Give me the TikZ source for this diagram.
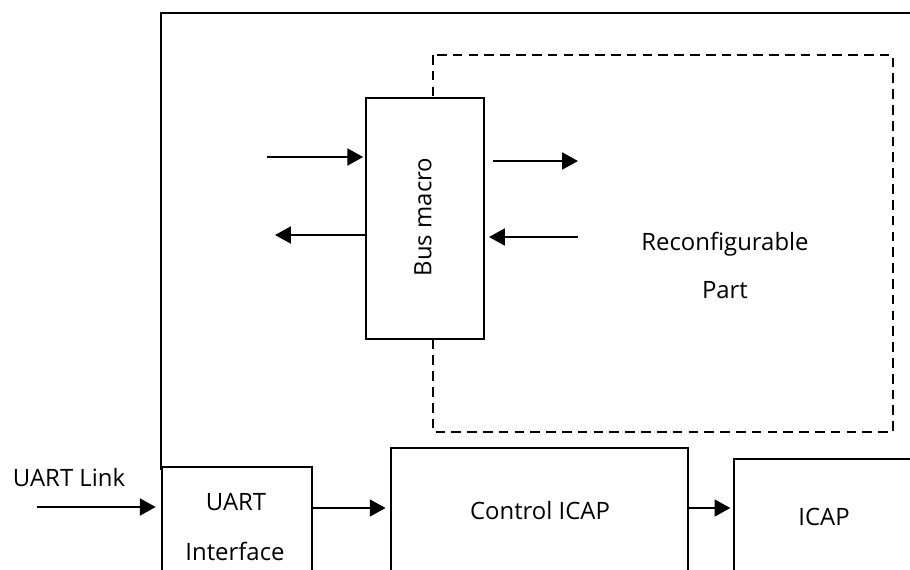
\documentclass[tikz,border=0pt]{standalone}
\usepackage{fontspec}
\setmainfont{Open Sans}
\usetikzlibrary{arrows.meta}

\tikzset{
  box/.style={draw, line width=1.4pt, fill=white, inner sep=0pt, anchor=north west},
  lbl/.style={font=\fontsize{13.6}{15}\selectfont, inner sep=0pt, anchor=base},
  arr/.style={-{Triangle[length=9pt,width=9.5pt]}, line width=1.5pt},
  dashline/.style={line width=1.4pt, dash pattern=on 5.5pt off 3.5pt},
}

\begin{document}
\begin{tikzpicture}[x=0.02cm, y=-0.02cm]
  \useasboundingbox (0,0) rectangle (910,569);
  \clip (0,0) rectangle (910,569);

  % FPGA frame and reconfigurable region
  \draw[line width=1.4pt] (161,470) -- (161,13) -- (920,13);
  \draw[dashline] (433,55) rectangle (893,432);

  % blocks
  \node[box, minimum width=2.36cm, minimum height=4.82cm] (bus) at (365,97) {};
  \node[box, minimum width=3cm, minimum height=3.2cm] (uart) at (161,466) {};
  \node[box, minimum width=5.94cm, minimum height=3.6cm] (ctrl) at (390,447) {};
  \node[box, minimum width=4.2cm, minimum height=3.4cm] (icap) at (733,458) {};

  % labels
  \node[lbl, anchor=center, rotate=90] (bustxt) at (423,217) {Bus macro};
  \node[lbl] (rptxt) at (725,250) {Reconfigurable};
  \node[lbl] (rptxt2) at (725,298) {Part};
  \node[lbl] (uarttxt) at (236,510) {UART};
  \node[lbl] (uarttxt2) at (235,560) {Interface};
  \node[lbl] (ctrltxt) at (540,519) {Control ICAP};
  \node[lbl] (icaptxt) at (824,525) {ICAP};
  \node[lbl] (linktxt) at (69,486) {UART Link};

  % free ends
  \coordinate (linkin) at (37,507);
  \coordinate (leftin) at (267,157);
  \coordinate (leftout) at (275,235);
  \coordinate (rightout) at (578,161);
  \coordinate (rightin) at (578,237);
  \coordinate (row) at (0,508);

  % connectors
  \draw[arr, shorten >=3pt] (linkin) -- (linkin -| uart.west);
  \draw[arr, shorten >=2.5pt] (uart.east |- row) -- (ctrl.west |- row);
  \draw[arr, shorten >=1.5pt] (ctrl.east |- row) -- (icap.west |- row);
  \draw[arr, shorten >=1pt] (leftin) -- (leftin -| bus.west);
  \draw[arr] (leftout -| bus.west) -- (leftout);
  \draw[arr, shorten <=4.5pt] (rightout -| bus.east) -- (rightout);
  \draw[arr, shorten >=2pt] (rightin) -- (rightin -| bus.east);
\end{tikzpicture}
\end{document}
